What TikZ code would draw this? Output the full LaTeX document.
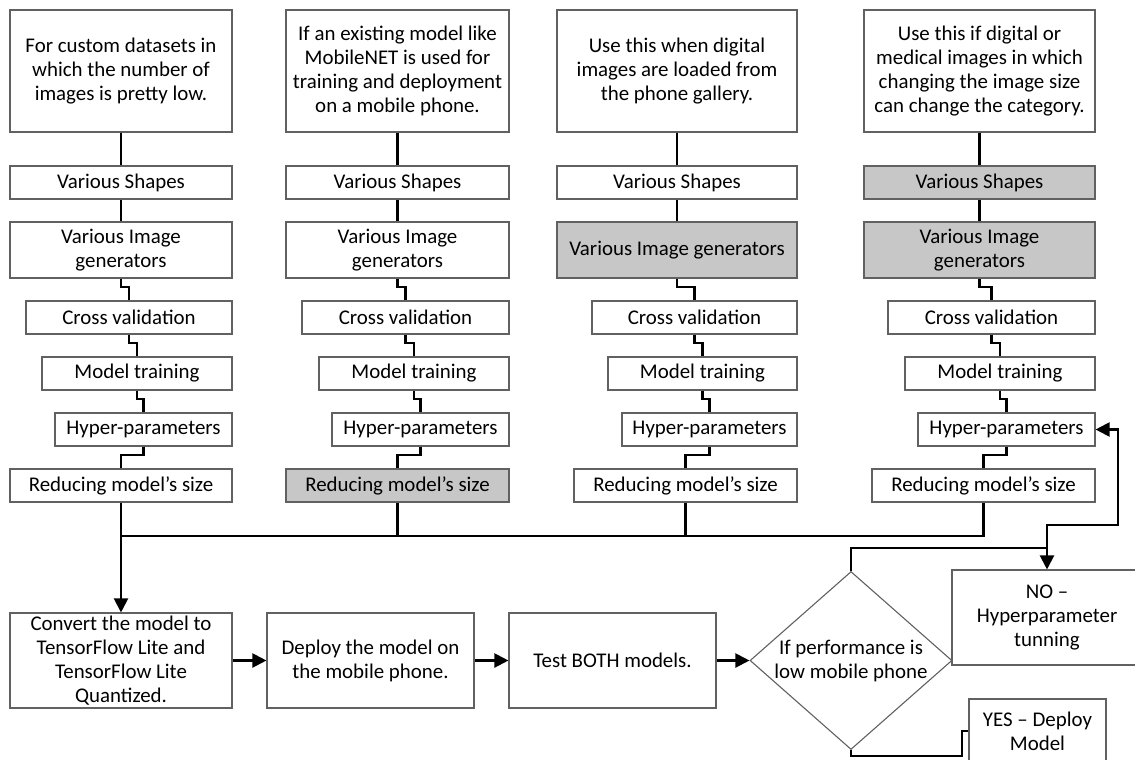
\documentclass[tikz,border=0pt]{standalone}
\usepackage{fontspec}
\setmainfont{Carlito}
\usetikzlibrary{arrows.meta,shapes.geometric,calc}
% [style] name x1 y1 x2 y2 {text}
\newcommand\bx[7][]{%
  \pgfmathsetmacro\bxw{#5-#3}\pgfmathsetmacro\bxh{#6-#4}%
  \pgfmathsetmacro\bxx{(#3+#5)/2}\pgfmathsetmacro\bxy{(#4+#6)/2}%
  \node[box,#1,minimum width=\bxw pt,minimum height=\bxh pt] (#2) at (\bxx,\bxy) {#7};}
\begin{document}
\begin{tikzpicture}[x=1pt,y=-1pt,
  box/.style={draw=black!62,line width=1.1pt,inner sep=0pt,align=center,font=\fontsize{20.9}{24}\selectfont},
  shaded/.style={fill=black!22},
  conn/.style={line width=2.1pt},
  arr/.style={conn,-{Triangle[width=14pt,length=14pt]}},
  elbow/.style={to path={-- ++(0,8) -| (\tikztotarget)}}]
\useasboundingbox[fill=white] (0,0) rectangle (1135,760);

% ---------- column 1
\bx{c1top}{10}{10}{232}{132}{For custom datasets in\\which the number of\\images is pretty low.}
\bx{c1vs}{10}{166}{232}{199}{Various Shapes}
\bx{c1vig}{10}{222}{232}{278}{Various Image\\generators}
\bx{c1cv}{26}{301}{232}{334}{Cross validation}
\bx{c1mt}{42}{357}{232}{390}{Model training}
\bx{c1hp}{55}{413}{232}{446}{Hyper-parameters}
\bx{c1red}{10}{469}{232}{502}{Reducing model’s size}

% ---------- column 2
\bx{c2top}{286}{10}{509}{132}{If an existing model like\\MobileNET is used for\\training and deployment\\on a mobile phone.}
\bx{c2vs}{286}{166}{509}{199}{Various Shapes}
\bx{c2vig}{286}{222}{509}{278}{Various Image\\generators}
\bx{c2cv}{302}{301}{509}{334}{Cross validation}
\bx{c2mt}{319}{357}{509}{390}{Model training}
\bx{c2hp}{332}{413}{509}{446}{Hyper-parameters}
\bx[shaded]{c2red}{286}{469}{509}{502}{Reducing model’s size}

% ---------- column 3
\bx{c3top}{557}{10}{797}{132}{Use this when digital\\images are loaded from\\the phone gallery.}
\bx{c3vs}{557}{166}{797}{199}{Various Shapes}
\bx[shaded]{c3vig}{557}{222}{797}{278}{Various Image generators}
\bx{c3cv}{592}{301}{797}{334}{Cross validation}
\bx{c3mt}{608}{357}{797}{390}{Model training}
\bx{c3hp}{622}{413}{797}{446}{Hyper-parameters}
\bx{c3red}{574}{469}{797}{502}{Reducing model’s size}

% ---------- column 4
\bx{c4top}{864}{10}{1095}{132}{Use this if digital or\\medical images in which\\changing the image size\\can change the category.}
\bx[shaded]{c4vs}{864}{166}{1095}{199}{Various Shapes}
\bx[shaded]{c4vig}{864}{222}{1095}{278}{Various Image\\generators}
\bx{c4cv}{888}{301}{1095}{334}{Cross validation}
\bx{c4mt}{905}{357}{1095}{390}{Model training}
\bx{c4hp}{918}{413}{1095}{446}{Hyper-parameters}
\bx{c4red}{872}{469}{1095}{502}{Reducing model’s size}

% ---------- bottom row
\bx{conv}{10}{613}{232}{708}{Convert the model to\\TensorFlow Lite and\\TensorFlow Lite\\Quantized.}
\bx{dep}{267}{613}{474}{708}{Deploy the model on\\the mobile phone.}
\bx{test}{509}{613}{716}{708}{Test BOTH models.}
\node[draw=black!62,line width=1.1pt,diamond,minimum width=202pt,minimum height=178pt,inner sep=0pt] (dia) at (851,660.5) {};
\node[box,draw=none] (diatxt) at (dia.center) {If performance is\\low mobile phone};
\bx{no}{952}{570}{1142}{665}{NO –\\Hyperparameter\\tunning}
\bx{yes}{969}{699}{1106}{763}{YES – Deploy\\Model}

% ---------- column connectors
\foreach \c in {c1,c2,c3,c4}{
  \draw[conn] (\c top) -- (\c vs);
  \draw[conn] (\c vs) -- (\c vig);
  \draw[conn] (\c vig.south) to[elbow] (\c cv.north);
  \draw[conn] (\c cv.south) to[elbow] (\c mt.north);
  \draw[conn] (\c mt.south) to[elbow] (\c hp.north);
  \draw[conn] (\c hp.south) to[elbow] (\c red.north);
}

% ---------- bus
\coordinate (bus) at (121,536);
\draw[arr] (c1red.south) -- (conv.north);
\draw[conn] (bus) -- (c4red.south |- bus) -- (c4red.south);
\draw[conn] (c2red.south) -- (c2red.south |- bus);
\draw[conn] (c3red.south) -- (c3red.south |- bus);

% ---------- bottom flow
\draw[arr] (conv.east) -- (dep.west);
\draw[arr] (dep.east) -- (test.west);
\draw[arr] (test.east) -- (dia.west);

% ---------- feedback
\coordinate (j) at (1047,548);
\coordinate (k) at (1118,525);
\draw[arr] (dia.north) |- (j) -- (no.north);
\draw[arr] (j) |- (k) |- (c4hp.east);

% ---------- yes
\coordinate (ym) at (962,731);
\draw[conn] (dia.south) -- ++(0,6) -| (ym) -- (yes.west);
\end{tikzpicture}
\end{document}
